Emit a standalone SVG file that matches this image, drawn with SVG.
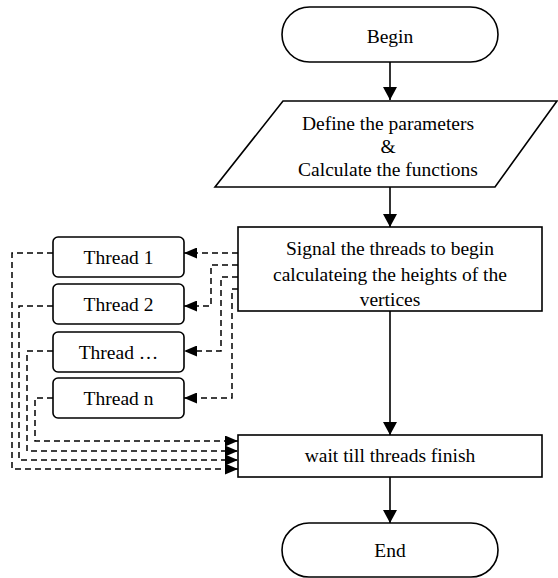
<svg xmlns="http://www.w3.org/2000/svg" width="558" height="578" viewBox="0 0 558 578">
<defs>
<style>
.shape{fill:#fff;stroke:#000;stroke-width:1.6}
.t{font-family:"Liberation Serif","Times New Roman",serif;font-size:19.5px;fill:#000;text-anchor:middle}
.solid{fill:none;stroke:#000;stroke-width:1.6}
.dash{fill:none;stroke:#000;stroke-width:1.5;stroke-dasharray:6,4}
</style>
<marker id="ah" markerUnits="userSpaceOnUse" markerWidth="14" markerHeight="14" refX="13" refY="7" orient="auto">
<path d="M0,0 L13,7 L0,14 z" fill="#000" stroke="none"/>
</marker>
<marker id="ahd" markerUnits="userSpaceOnUse" markerWidth="13" markerHeight="11" refX="13" refY="5.5" orient="auto">
<path d="M0,0 L13,5.5 L0,11 z" fill="#000" stroke="none"/>
</marker>
</defs>

<g id="connectors">
<path class="solid" d="M390,62 L390,100" marker-end="url(#ah)"/>
<path class="solid" d="M390,187 L390,227" marker-end="url(#ah)"/>
<path class="solid" d="M390,311 L390,435" marker-end="url(#ah)"/>
<path class="solid" d="M390,477 L390,523" marker-end="url(#ah)"/>

<path class="dash" d="M238,253 L184,253" marker-end="url(#ahd)"/>
<path class="dash" d="M238,265 L211,265 L211,306 L184,306" marker-end="url(#ahd)"/>
<path class="dash" d="M238,277 L221,277 L221,351 L184,351" marker-end="url(#ahd)"/>
<path class="dash" d="M238,289 L232,289 L232,398 L184,398" marker-end="url(#ahd)"/>

<path class="dash" d="M53,253 L12,253 L12,469 L238,469" marker-end="url(#ahd)"/>
<path class="dash" d="M53,306 L19,306 L19,460 L238,460" marker-end="url(#ahd)"/>
<path class="dash" d="M53,351 L27,351 L27,451 L238,451" marker-end="url(#ahd)"/>
<path class="dash" d="M53,398 L35,398 L35,441 L238,441" marker-end="url(#ahd)"/>
</g>

<g id="begin">
<rect class="shape" x="282" y="7" width="216" height="55" rx="27.5" ry="27.5"/>
<text class="t" x="390" y="43">Begin</text>
</g>

<g id="define">
<polygon class="shape" points="283,101 557,101 495,187 215,187"/>
<text class="t" x="388" y="130">Define the parameters</text>
<text class="t" x="388" y="153">&amp;</text>
<text class="t" x="388" y="176">Calculate the functions</text>
</g>

<g id="signal">
<rect class="shape" x="238" y="227" width="304" height="84"/>
<text class="t" x="390" y="255">Signal the threads to begin</text>
<text class="t" x="390" y="281">calculateing the heights of the</text>
<text class="t" x="390" y="306">vertices</text>
</g>

<g id="thread1">
<rect class="shape" x="53" y="237" width="131" height="40" rx="5" ry="5"/>
<text class="t" x="118.5" y="264">Thread 1</text>
</g>
<g id="thread2">
<rect class="shape" x="53" y="284" width="131" height="40" rx="5" ry="5"/>
<text class="t" x="118.5" y="311">Thread 2</text>
</g>
<g id="threadDots">
<rect class="shape" x="53" y="332" width="131" height="40" rx="5" ry="5"/>
<text class="t" x="118.5" y="359">Thread …</text>
</g>
<g id="threadN">
<rect class="shape" x="53" y="378" width="131" height="40" rx="5" ry="5"/>
<text class="t" x="118.5" y="405">Thread n</text>
</g>

<g id="wait">
<rect class="shape" x="238" y="435" width="304" height="42"/>
<text class="t" x="390" y="462">wait till threads finish</text>
</g>

<g id="end">
<rect class="shape" x="282" y="523" width="216" height="54" rx="27" ry="27"/>
<text class="t" x="390" y="557">End</text>
</g>
</svg>
